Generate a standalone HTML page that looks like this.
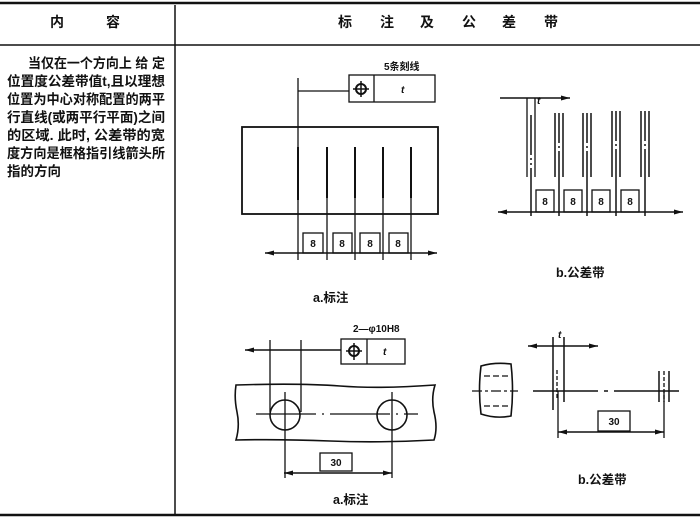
<!DOCTYPE html>
<html><head><meta charset="utf-8"><style>
html,body{margin:0;padding:0;background:#fff;}
svg{display:block;}
text{font-family:"Liberation Sans","Noto Sans CJK SC",sans-serif;fill:#111;}
</style></head><body>
<svg width="700" height="521" viewBox="0 0 700 521" xmlns="http://www.w3.org/2000/svg">
<g stroke="#111" fill="none" stroke-width="1.3">
<!-- table -->
<line x1="0" y1="3" x2="700" y2="3" stroke-width="2.5"/>
<line x1="0" y1="45" x2="700" y2="45" stroke-width="1.5"/>
<line x1="0" y1="515" x2="700" y2="515" stroke-width="2.5"/>
<line x1="175" y1="5" x2="175" y2="514" stroke-width="1.5"/>

<!-- top a -->
<line x1="298" y1="78" x2="298" y2="260"/>
<line x1="298" y1="91" x2="349" y2="91"/>
<rect x="349" y="75" width="86" height="27"/>
<line x1="374" y1="75" x2="374" y2="102"/>
<circle cx="361" cy="89" r="5" stroke-width="2"/>
<line x1="353" y1="89" x2="369" y2="89" stroke-width="1.5"/>
<line x1="361" y1="81" x2="361" y2="97" stroke-width="1.5"/>
<rect x="242" y="127" width="196" height="87" stroke-width="1.8"/>
<g stroke-width="2">
<line x1="298" y1="147" x2="298" y2="200"/>
<line x1="327" y1="147" x2="327" y2="198"/>
<line x1="355" y1="147" x2="355" y2="198"/>
<line x1="383" y1="147" x2="383" y2="198"/>
<line x1="411" y1="147" x2="411" y2="198"/>
</g>
<line x1="327" y1="198" x2="327" y2="260"/>
<line x1="355" y1="198" x2="355" y2="260"/>
<line x1="383" y1="198" x2="383" y2="260"/>
<line x1="411" y1="198" x2="411" y2="260"/>
<line x1="265" y1="253" x2="437" y2="253" stroke-width="1.6"/>
<rect x="303" y="233" width="20" height="20"/>
<rect x="333" y="233" width="19" height="20"/>
<rect x="360" y="233" width="20" height="20"/>
<rect x="389" y="233" width="19" height="20"/>

<!-- top b -->
<line x1="500" y1="98" x2="570" y2="98" stroke-width="1.6"/>
<line x1="527" y1="98" x2="527" y2="177"/>
<line x1="535" y1="98" x2="535" y2="177"/>
<line x1="498" y1="212" x2="683" y2="212" stroke-width="1.6"/>
<g stroke-width="1.5">
<line x1="531" y1="115" x2="531" y2="216" stroke-dasharray="40,3,2,3,2,3,200"/>
<line x1="555" y1="113" x2="555" y2="177"/><line x1="559" y1="113" x2="559" y2="216" stroke-dasharray="30,3,2,3,200"/><line x1="563" y1="113" x2="563" y2="177"/>
<line x1="583" y1="113" x2="583" y2="177"/><line x1="587" y1="113" x2="587" y2="216" stroke-dasharray="30,3,2,3,200"/><line x1="591" y1="113" x2="591" y2="177"/>
<line x1="612" y1="111" x2="612" y2="177"/><line x1="616" y1="111" x2="616" y2="216" stroke-dasharray="30,3,2,3,200"/><line x1="620" y1="111" x2="620" y2="177"/>
<line x1="641" y1="111" x2="641" y2="177"/><line x1="645" y1="111" x2="645" y2="216" stroke-dasharray="30,3,2,3,200"/><line x1="649" y1="111" x2="649" y2="177"/>
</g>
<rect x="536" y="190" width="18" height="22"/>
<rect x="564" y="190" width="18" height="22"/>
<rect x="592" y="190" width="18" height="22"/>
<rect x="621" y="190" width="18" height="22"/>

<!-- bottom a -->
<line x1="245" y1="350" x2="341" y2="350" stroke-width="1.5"/>
<line x1="270" y1="340" x2="270" y2="412"/>
<line x1="301" y1="340" x2="301" y2="412"/>
<rect x="341" y="339" width="64" height="25"/>
<line x1="367" y1="339" x2="367" y2="364"/>
<circle cx="354" cy="351" r="5" stroke-width="2"/>
<line x1="346" y1="351" x2="362" y2="351" stroke-width="1.5"/>
<line x1="354" y1="343" x2="354" y2="360" stroke-width="1.5"/>
<path d="M236 385 Q300 383 340 386 T435 385 Q431 398 434 412 Q438 428 434 440 Q380 443 330 441 T236 440 Q240 426 237 412 Q234 398 236 385 Z" stroke-width="1.6"/>
<circle cx="285" cy="415" r="15" stroke-width="1.6"/>
<circle cx="392" cy="415" r="15" stroke-width="1.6"/>
<line x1="256" y1="414" x2="418" y2="414" stroke-dasharray="60,6,2,6"/>
<line x1="285" y1="392" x2="285" y2="478"/>
<line x1="392" y1="392" x2="392" y2="478"/>
<line x1="284" y1="473" x2="392" y2="473" stroke-width="1.5"/>
<rect x="320" y="453" width="32" height="18"/>

<!-- bottom b -->
<path d="M481 366 Q495 362 511 364 Q514 390 511 416 Q496 419 481 414 Q478 390 481 366 Z" stroke-width="1.6"/>
<line x1="484" y1="376" x2="510" y2="376" stroke-dasharray="6,3"/>
<line x1="472" y1="391" x2="518" y2="391" stroke-dasharray="10,3,3,3"/>
<line x1="484" y1="406" x2="510" y2="406" stroke-dasharray="6,3"/>
<line x1="528" y1="346" x2="598" y2="346" stroke-width="1.6"/>
<line x1="553" y1="337" x2="553" y2="410" stroke-width="1.5"/>
<line x1="564" y1="337" x2="564" y2="402" stroke-width="1.5"/>
<line x1="557" y1="370" x2="557" y2="400" stroke-dasharray="4,2"/>
<line x1="533" y1="391" x2="683" y2="391" stroke-width="1.5" stroke-dasharray="65,6,4,6"/>
<line x1="659" y1="371" x2="659" y2="402" stroke-width="1.5"/>
<line x1="664" y1="371" x2="664" y2="402" stroke-dasharray="4,2"/>
<line x1="669" y1="371" x2="669" y2="402" stroke-width="1.5"/>
<line x1="558" y1="391" x2="558" y2="438"/>
<line x1="664" y1="391" x2="664" y2="438"/>
<line x1="558" y1="432" x2="664" y2="432" stroke-width="1.5"/>
<rect x="598" y="411" width="32" height="20"/>
</g>
<!-- arrowheads -->
<g fill="#111">
<path d="M437 253 l-9 -2.5 v5 z"/>
<path d="M265 253 l9 -2.5 v5 z"/>
<path d="M570 98 l-9 -2.5 v5 z"/>
<path d="M683 212 l-9 -2.5 v5 z"/>
<path d="M498 212 l9 -2.5 v5 z"/>
<path d="M245 350 l9 -2.5 v5 z"/>
<path d="M284 473 l9 -2.5 v5 z"/><path d="M392 473 l-9 -2.5 v5 z"/>
<path d="M528 346 l9 -2.5 v5 z"/><path d="M598 346 l-9 -2.5 v5 z"/>
<path d="M558 432 l9 -2.5 v5 z"/><path d="M664 432 l-9 -2.5 v5 z"/>
</g>

<!-- text -->
<g font-weight="bold">
<text x="50" y="27" font-size="14">内</text>
<text x="106" y="27" font-size="14">容</text>
<text x="338" y="27" font-size="14">标</text>
<text x="380" y="27" font-size="14">注</text>
<text x="420" y="27" font-size="14">及</text>
<text x="462" y="27" font-size="14">公</text>
<text x="502" y="27" font-size="14">差</text>
<text x="544" y="27" font-size="14">带</text>
<g font-size="13.5">
<text x="28" y="68" textLength="137" lengthAdjust="spacingAndGlyphs">当仅在一个方向上 给 定</text>
<text x="7" y="86" textLength="158" lengthAdjust="spacingAndGlyphs">位置度公差带值t,且以理想</text>
<text x="7" y="104" textLength="158" lengthAdjust="spacingAndGlyphs">位置为中心对称配置的两平</text>
<text x="7" y="122" textLength="158" lengthAdjust="spacingAndGlyphs">行直线(或两平行平面)之间</text>
<text x="7" y="140" textLength="158" lengthAdjust="spacingAndGlyphs">的区域. 此时, 公差带的宽</text>
<text x="7" y="158" textLength="158" lengthAdjust="spacingAndGlyphs">度方向是框格指引线箭头所</text>
<text x="7" y="176" textLength="54" lengthAdjust="spacingAndGlyphs">指的方向</text>
</g>
<text x="384" y="70" font-size="10">5条刻线</text>
<text x="401" y="93" font-size="10" font-style="italic">t</text>
<text x="353" y="332" font-size="10">2—φ10H8</text>
<text x="383" y="355" font-size="10" font-style="italic">t</text>
<text x="537" y="104" font-size="10" font-style="italic">t</text>
<text x="558" y="338" font-size="10" font-style="italic">t</text>
<g font-size="10" text-anchor="middle">
<text x="313" y="247">8</text><text x="342" y="247">8</text><text x="370" y="247">8</text><text x="398" y="247">8</text>
<text x="545" y="205">8</text><text x="573" y="205">8</text><text x="601" y="205">8</text><text x="630" y="205">8</text>
<text x="336" y="466">30</text>
<text x="614" y="425">30</text>
</g>
<g font-size="12.5">
<text x="313" y="302">a.标注</text>
<text x="556" y="277">b.公差带</text>
<text x="333" y="504">a.标注</text>
<text x="578" y="484">b.公差带</text>
</g>
</g>
</svg>
</body></html>
